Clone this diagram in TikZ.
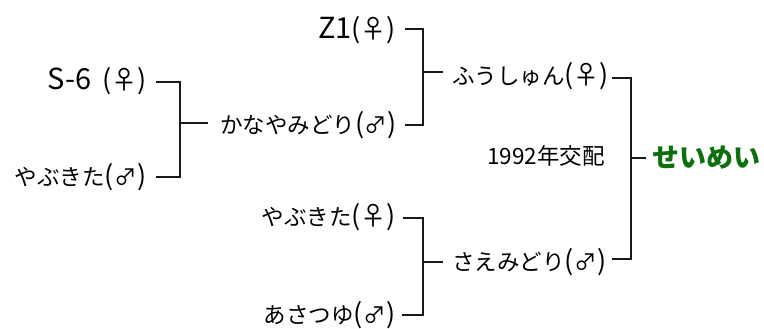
\documentclass[tikz,border=0pt]{standalone}
\usepackage{fontspec}
\setmainfont{Noto Sans CJK JP}
\definecolor{leafgreen}{RGB}{12,110,12}
\newcommand{\lp}{{\fontsize{27}{29}\selectfont(}}
\newcommand{\rp}{{\fontsize{27}{29}\selectfont)}}
\newcommand{\fem}{\lp\makebox[1.15em]{\fontsize{26}{28}\selectfont ♀}\rp}
\newcommand{\mal}{\lp\makebox[1.05em]{♂}\rp}
\newcommand{\lat}[1]{{\fontsize{29}{31}\selectfont #1}}
\begin{document}
\begin{tikzpicture}[x=1pt,y=-1pt,
  lbl/.style={inner sep=0pt,font=\fontsize{22.5}{24}\selectfont},
  note/.style={inner sep=0pt,font=\fontsize{22.5}{24}\selectfont},
  child/.style={inner sep=0pt,font=\fontsize{27}{30}\selectfont\bfseries,text=leafgreen},
  bracket/.style={draw=black!90,line width=1.1pt}]
\useasboundingbox (0,0) rectangle (764,329);
% generation 1 (left)
\node[lbl,anchor=east] (s6) at (147,81) {\lat{S-6}\hspace{0.5em}\fem};
\node[lbl,anchor=east] (yab1) at (147,177) {やぶきた\mal};
% generation 2
\node[lbl,anchor=east] (z1) at (396,30) {\lat{Z1}\fem};
\node[lbl,anchor=west] (kana) at (220,125) {かなやみどり\mal};
\node[lbl,anchor=east] (yab2) at (396,217) {やぶきた\fem};
\node[lbl,anchor=east] (asa) at (396,315) {あさつゆ\mal};
% generation 3
\node[lbl,anchor=west] (fush) at (452,76) {ふうしゅん\fem};
\node[lbl,anchor=west] (sae) at (452,262) {さえみどり\mal};
% offspring
\node[child,anchor=west] (sei) at (652,158) {せいめい};
\node[note] (year) at (546,156) {1992年交配};
% brackets
\coordinate (c1) at (180,123);
\coordinate (c2) at (423,72);
\coordinate (c3) at (423,262);
\coordinate (c4) at (631,158);
\draw[bracket] (156,82) -| (c1) |- (156,177);
\draw[bracket] (c1) -- ([xshift=-12pt]kana.west |- c1);
\draw[bracket] (405,29) -| (c2) |- (405,125);
\draw[bracket] (c2) -- ([xshift=-9pt]fush.west |- c2);
\draw[bracket] (403,218) -| (c3) |- (402,315);
\draw[bracket] (c3) -- ([xshift=-9pt]sae.west |- c3);
\draw[bracket] (612,78) -| (c4) |- (612,259);
\draw[bracket] (c4) -- ([xshift=-6pt]sei.west |- c4);
\end{tikzpicture}
\end{document}
